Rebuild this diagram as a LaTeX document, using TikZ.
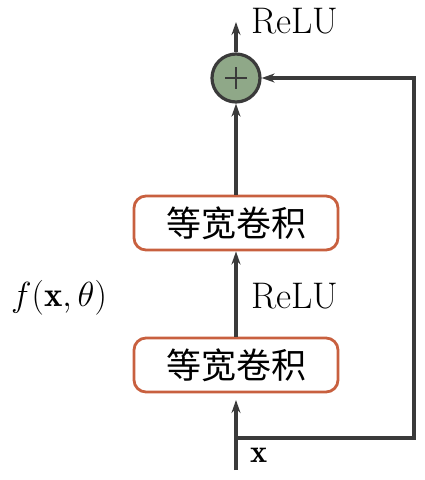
\documentclass[tikz,border=0pt]{standalone}
\usepackage{fontspec}
\newfontfamily\cjk{Noto Sans CJK SC}
\usetikzlibrary{arrows.meta}
\definecolor{linec}{HTML}{3A3A3A}
\definecolor{boxc}{HTML}{C8603F}
\definecolor{sumc}{HTML}{8FA888}
\begin{document}
\begin{tikzpicture}[x=1pt,y=-1pt,
  conv/.style={draw=boxc,line width=2.8pt,rounded corners=12pt,minimum width=204pt,minimum height=54pt,inner sep=0pt,font=\cjk\fontsize{35}{40}\selectfont},
  sumnode/.style={circle,draw=linec,fill=sumc,line width=3.2pt,minimum size=48pt,inner sep=0pt},
  arr/.style={draw=linec,line width=3.2pt,-{Stealth[length=13pt,width=9pt]}},
  lbl/.style={font=\fontsize{37}{44}\selectfont,text=black,inner sep=0pt},
  mlbl/.style={font=\fontsize{24.88}{30}\selectfont,text=black,inner sep=0pt}]
\useasboundingbox (0,0) rectangle (424,480);
\node[sumnode] (sum) at (236,78) {};
\draw[linec,line width=1.3pt] (sum.center) ++(-11,0) -- ++(22,0);
\draw[linec,line width=1.3pt] (sum.center) ++(0,-11) -- ++(0,22);
\coordinate (top) at (236,22);
\draw[arr] (sum.north) -- (top);
\node[lbl,anchor=west] (r1) at (251,21) {ReLU};
\node[conv] (c2) at (236,223) {等宽卷积};
\node[conv] (c1) at (236,365) {等宽卷积};
\draw[arr] (c2.north) -- (sum.south);
\draw[arr] (c1.north) -- (c2.south);
\node[lbl,anchor=west] (r2) at (251,296) {ReLU};
\coordinate (in) at (236,470);
\coordinate (in2) at (236,400);
\draw[arr] (in) -- (in2);
\node[mlbl,anchor=west] (x) at (250,455) {\scalebox{1.3}{$\mathbf{x}$}};
\coordinate (s0) at (237,438);
\coordinate (s1) at (414,438);
\coordinate (s2) at (414,78);
\draw[arr,rounded corners=0pt] (s0) -- (s1) -- (s2) -- (sum.east);
\node[mlbl] (f) at (59,298) {\scalebox{1.4}{$f(\mathbf{x},\theta)$}};
\end{tikzpicture}
\end{document}
